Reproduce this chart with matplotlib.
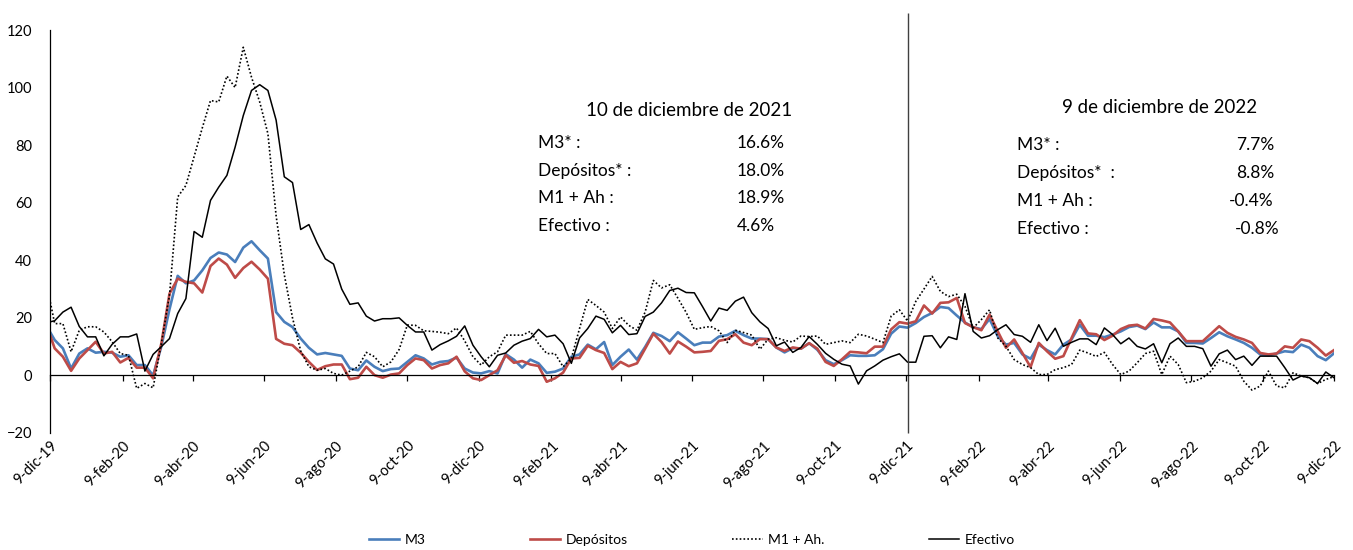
import matplotlib
matplotlib.use('Agg')
import matplotlib.pyplot as plt
import matplotlib.dates as mdates
import pandas as pd

# semanas (viernes) desde 6-dic-19 hasta 9-dic-22
fechas = pd.date_range('2019-12-06', periods=158, freq='7D')

m3 = [17.2,
      12.3, 9.4, 2.4, 7.6, 9.4, 7.9, 8.2, 7.9, 6.5, 7.0,
      3.6, 3.6, 0.0, 10.0, 23.0, 34.6, 32.0, 33.0, 36.5, 40.8,
      42.7, 42.0, 39.4, 44.4, 46.6, 43.5, 40.6, 22.0, 18.6, 16.8,
      12.8, 9.6, 7.3, 7.8, 7.3, 6.8, 2.4, 1.8, 5.2, 3.0,
      1.5, 2.2, 2.4, 4.7, 7.0, 5.9, 3.8, 4.7, 5.0, 6.2,
      2.4, 1.0, 0.7, 1.5, 0.7, 7.4, 5.5, 2.7, 5.5, 4.2,
      0.9, 1.3, 2.4, 6.5, 7.3, 10.7, 9.1, 11.6, 3.6, 6.5,
      9.0, 5.5, 9.9, 14.8, 13.7, 11.9, 15.0, 12.8, 10.5, 11.4,
      11.4, 13.5, 14.0, 15.5, 14.0, 12.8, 12.8, 12.6, 9.7, 8.0,
      9.5, 9.3, 11.2, 8.9, 5.3, 3.9, 5.3, 7.0, 6.8, 6.8,
      7.0, 9.1, 14.5, 17.0, 16.6, 18.2, 20.3, 21.7, 23.8, 23.4,
      20.8, 18.4, 16.7, 16.1, 19.6, 13.6, 10.7, 11.3, 7.3, 5.8,
      10.7, 8.8, 7.3, 10.7, 12.5, 17.6, 13.8, 13.8, 13.3, 14.2,
      15.3, 16.8, 17.3, 16.1, 18.4, 16.7, 16.7, 15.3, 11.3, 11.3,
      11.1, 13.0, 15.0, 13.6, 12.5, 11.3, 9.6, 7.3, 7.0, 7.6,
      8.4, 8.1, 10.7, 9.6, 6.7, 5.3, 7.7]

depositos = [17.5,
             9.4, 6.5, 1.6, 5.9, 8.8, 11.7, 7.6, 8.2, 4.5, 6.1,
             2.7, 2.7, -1.0, 11.0, 28.4, 33.6, 32.5, 32.0, 28.8, 38.0,
             40.6, 38.5, 33.9, 37.3, 39.5, 36.8, 33.6, 12.7, 11.0, 10.5,
             7.9, 4.7, 1.9, 3.2, 3.8, 3.8, -1.3, -0.8, 3.0, 0.1,
             -0.8, 0.3, 0.7, 3.6, 5.9, 5.3, 2.4, 3.6, 4.2, 6.5,
             1.4, -1.0, -1.6, 0.1, 1.8, 7.0, 4.4, 5.0, 3.8, 3.3,
             -2.2, -1.0, 1.0, 5.9, 6.1, 10.3, 8.8, 7.8, 2.2, 4.7,
             3.2, 4.2, 9.3, 14.5, 11.6, 7.6, 11.8, 10.0, 8.0, 8.2,
             8.5, 12.0, 12.6, 14.3, 11.4, 10.5, 12.6, 12.6, 9.7, 8.5,
             9.7, 9.3, 11.2, 9.3, 4.7, 3.3, 5.6, 8.2, 8.0, 7.7,
             10.0, 10.0, 16.0, 18.5, 18.0, 18.8, 24.3, 21.5, 25.2, 25.4,
             26.9, 18.2, 16.8, 15.7, 21.1, 15.3, 9.6, 12.5, 7.8, 2.9,
             11.3, 8.4, 5.8, 6.7, 13.0, 19.2, 14.6, 14.3, 12.3, 13.8,
             16.1, 17.3, 17.6, 16.3, 19.6, 19.1, 18.4, 15.3, 11.9, 11.9,
             11.9, 14.5, 17.1, 14.8, 13.4, 12.5, 11.3, 7.8, 7.3, 7.6,
             10.1, 9.6, 12.5, 11.9, 9.6, 6.9, 8.8]

m1_ah = [32.0,
         18.0, 18.0, 8.2, 15.7, 16.9, 16.9, 15.1, 11.7, 7.6, 7.0,
         -4.5, -2.8, -4.3, 11.0, 27.9, 62.0, 66.0, 76.0, 86.0, 95.5,
         95.0, 104.0, 100.0, 114.0, 103.6, 95.0, 84.0, 55.5, 35.0, 20.0,
         8.5, 3.0, 1.8, 2.4, 0.7, 0.1, 1.5, 3.0, 8.0, 6.5,
         3.0, 4.7, 9.0, 17.5, 17.4, 15.5, 15.3, 15.0, 14.5, 16.5,
         12.0, 6.5, 3.6, 6.5, 8.2, 14.0, 14.0, 14.0, 15.3, 11.0,
         7.6, 7.6, 3.0, 5.9, 16.3, 26.4, 24.3, 22.0, 16.3, 20.3,
         17.4, 15.7, 22.0, 33.0, 30.4, 31.5, 26.8, 21.9, 16.0, 16.6,
         17.0, 15.5, 11.4, 15.7, 14.9, 14.0, 9.1, 12.6, 13.1, 12.2,
         11.6, 13.7, 13.5, 13.7, 10.8, 11.4, 12.0, 11.4, 14.3, 13.7,
         12.6, 11.4, 20.6, 22.8, 18.9, 25.7, 30.0, 34.4, 29.2, 27.4,
         28.2, 24.0, 16.5, 19.4, 22.8, 13.0, 10.1, 5.5, 3.8, 2.7,
         0.3, 0.3, 2.0, 2.7, 3.8, 8.8, 7.8, 6.6, 8.0, 3.8,
         0.3, 1.5, 4.4, 7.6, 8.4, 0.3, 6.7, 3.8, -2.5, -2.0,
         -0.8, 1.5, 5.5, 4.4, 3.2, -2.0, -5.1, -3.7, 1.5, -3.7,
         -4.3, 0.9, -0.2, -0.8, -2.8, -1.4, -0.4]

efectivo = [18.3,
            19.0, 22.0, 23.7, 17.0, 13.4, 13.4, 6.8, 10.8, 13.4, 13.4,
            14.4, 1.5, 7.3, 10.0, 12.8, 21.5, 26.7, 50.0, 48.0, 60.8,
            65.4, 69.5, 79.3, 90.3, 99.0, 101.0, 99.0, 88.7, 69.0, 67.0,
            50.7, 52.4, 46.0, 40.5, 38.7, 30.0, 24.7, 25.2, 20.6, 18.9,
            19.7, 19.7, 20.0, 17.4, 15.1, 15.1, 8.8, 10.7, 12.0, 13.6,
            17.2, 10.5, 6.5, 3.0, 7.0, 7.8, 10.5, 11.9, 12.8, 16.0,
            13.4, 14.0, 11.0, 4.2, 13.0, 16.3, 20.6, 19.5, 14.8, 17.4,
            14.2, 14.5, 20.5, 22.0, 25.2, 29.5, 30.3, 28.8, 28.7, 23.9,
            18.9, 23.4, 22.6, 25.8, 27.2, 21.8, 18.6, 16.3, 10.3, 11.6,
            8.0, 9.7, 13.5, 10.8, 7.7, 5.6, 3.9, 3.3, -3.0, 1.6,
            3.3, 5.3, 6.5, 7.5, 4.6, 4.6, 13.6, 13.8, 9.6, 13.4,
            12.5, 28.4, 15.3, 13.0, 13.8, 15.9, 17.6, 14.2, 13.6, 11.5,
            17.6, 12.1, 16.4, 10.1, 11.5, 12.7, 12.7, 10.7, 16.5, 14.2,
            11.0, 13.0, 10.1, 9.2, 11.0, 4.4, 11.0, 13.0, 10.1, 10.1,
            9.3, 3.2, 7.5, 8.8, 5.5, 6.7, 3.5, 6.7, 6.7, 6.7,
            2.7, -1.6, -0.2, -0.8, -2.8, 1.2, -0.8]

etiquetas_x = ['9-dic-19', '9-feb-20', '9-abr-20', '9-jun-20', '9-ago-20', '9-oct-20',
               '9-dic-20', '9-feb-21', '9-abr-21', '9-jun-21', '9-ago-21', '9-oct-21',
               '9-dic-21', '9-feb-22', '9-abr-22', '9-jun-22', '9-ago-22', '9-oct-22',
               '9-dic-22']
fechas_ticks = pd.date_range('2019-12-01', periods=19, freq='2MS') + pd.Timedelta(days=8)

fecha_corte = pd.Timestamp('2021-12-10')

resumen_2021 = {'titulo': '10 de diciembre de 2021',
                'etiquetas': ['M3* :', 'Depósitos* :', 'M1 + Ah :', 'Efectivo :'],
                'valores': ['16.6%', '18.0%', '18.9%', '4.6%']}
resumen_2022 = {'titulo': '9 de diciembre de 2022',
                'etiquetas': ['M3* :', 'Depósitos*  :', 'M1 + Ah :', 'Efectivo :'],
                'valores': ['7.7%', '8.8%', '-0.4%', '-0.8%']}

plt.rcParams['font.family'] = ['Lato', 'DejaVu Sans']

W, H = 1353, 550
fig = plt.figure(figsize=(W / 100, H / 100), dpi=100)


def px(x, y):
    return x / W, 1 - y / H


ax = fig.add_axes([50 / W, 1 - 433 / H, (1334 - 50) / W, (433 - 30) / H])

x = mdates.date2num(fechas)
ax.plot(x, m3, color='#4A7EBB', lw=1.9, label='M3')
ax.plot(x, depositos, color='#BE4B48', lw=1.9, label='Depósitos')
ax.plot(x, m1_ah, color='black', lw=1.2, ls=(0, (1, 1.3)), label='M1 + Ah.')
ax.plot(x, efectivo, color='black', lw=1.1, label='Efectivo')

ax.vlines(mdates.date2num(fecha_corte), -20, 126, color='#404040', lw=1.0, clip_on=False)

ax.set_xlim(mdates.date2num(pd.Timestamp('2019-12-09')), mdates.date2num(pd.Timestamp('2022-12-09')))
ax.set_ylim(-20, 120)
ax.set_yticks(range(-20, 121, 20))
ax.tick_params(axis='y', length=0, pad=13, labelsize=10.5)

for s in ['top', 'right']:
    ax.spines[s].set_visible(False)
ax.spines['left'].set_linewidth(0.9)
ax.spines['bottom'].set_position(('data', 0))
ax.spines['bottom'].set_linewidth(0.9)

xt = mdates.date2num(fechas_ticks)
ax.set_xticks(xt)
ax.tick_params(axis='x', direction='out', length=4, width=0.9, labelbottom=False)

sec = ax.secondary_xaxis('bottom')
sec.set_xticks(xt, labels=etiquetas_x)
sec.tick_params(length=0, pad=4, labelsize=10.5)
for lab in sec.get_xticklabels():
    lab.set_rotation(45)
    lab.set_ha('right')
    lab.set_va('top')
    lab.set_rotation_mode('anchor')
sec.spines['bottom'].set_visible(False)

# recuadros de texto
fig.text(*px(689, 110), resumen_2021['titulo'], ha='center', va='center', fontsize=13.5)
for i, (lab, val) in enumerate(zip(resumen_2021['etiquetas'], resumen_2021['valores'])):
    y = 143 + i * 27.7
    fig.text(*px(538, y), lab, ha='left', va='center', fontsize=12.5)
    fig.text(*px(737, y), val, ha='left', va='center', fontsize=12.5)

fig.text(*px(1160, 108), resumen_2022['titulo'], ha='center', va='center', fontsize=13.5)
for i, (lab, val) in enumerate(zip(resumen_2022['etiquetas'], resumen_2022['valores'])):
    y = 145 + i * 28
    fig.text(*px(1017, y), lab, ha='left', va='center', fontsize=12.5)
    xr = 1280 if i == 3 else 1274
    fig.text(*px(xr, y), val, ha='right', va='center', fontsize=12.5)

handles, labels = ax.get_legend_handles_labels()
fig.legend(handles, labels, loc='center', bbox_to_anchor=px(692, 540), ncol=4,
           frameon=False, fontsize=10, handlelength=2.2, handletextpad=0.4,
           columnspacing=7.5)

fig.savefig('out.png', dpi=100)
